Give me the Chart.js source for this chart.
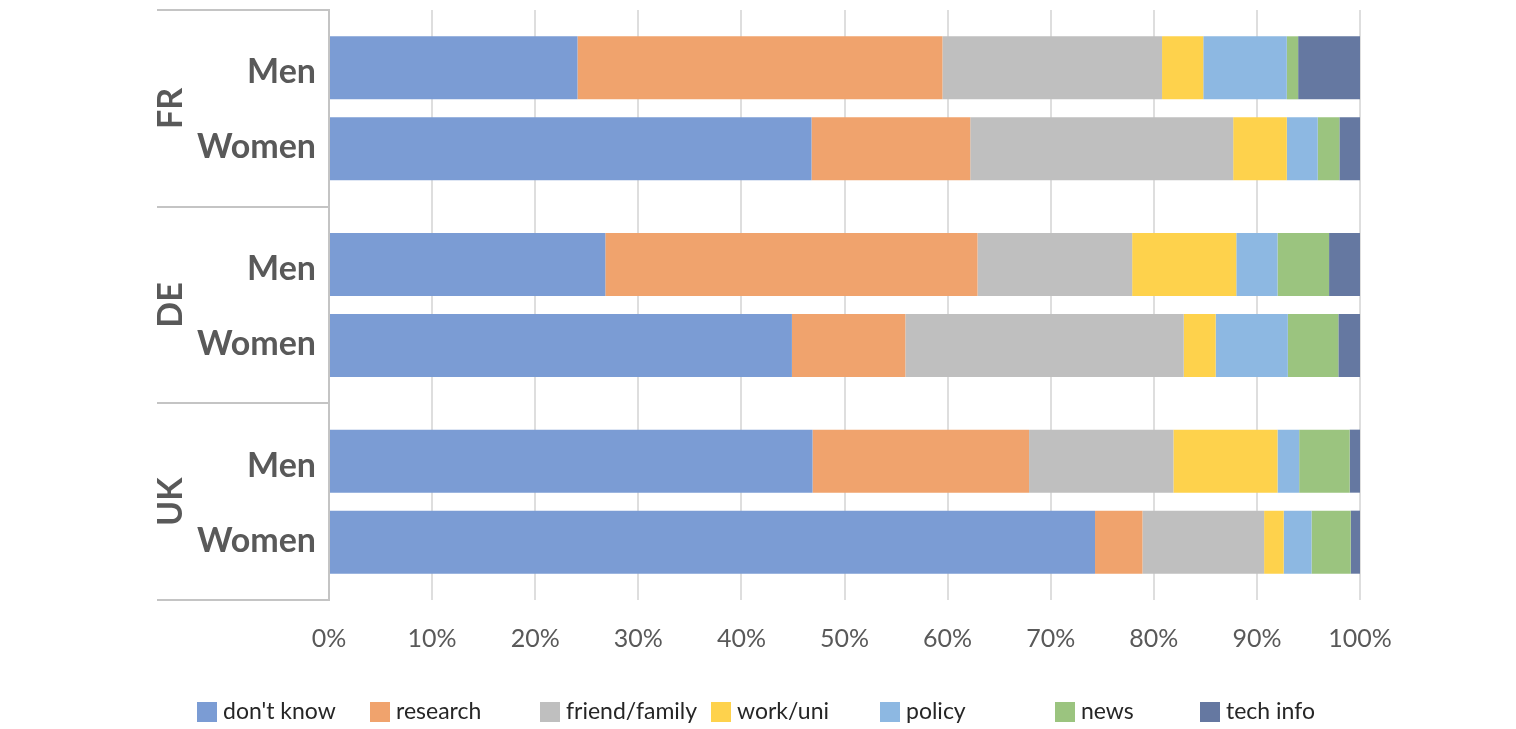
<!DOCTYPE html>
<html>
<head>
<meta charset="utf-8">
<script src="https://cdn.jsdelivr.net/npm/chart.js@4.4.1/dist/chart.umd.min.js"></script>
<style>
  html, body { margin: 0; padding: 0; background: #ffffff; }
  #wrap { width: 1516px; height: 729px; }
</style>
</head>
<body>
<div id="wrap"><canvas id="chart" width="1516" height="729"></canvas></div>
<script>
// Countries (outer axis level) and respondent groups (inner level)
const countries = ['FR', 'DE', 'UK'];
const genders = ['Men', 'Women'];

// Source categories shown in the legend
const sources = ["don't know", 'research', 'friend/family', 'work/uni', 'policy', 'news', 'tech info'];

// Share of answers (%), ordered FR Men, FR Women, DE Men, DE Women, UK Men, UK Women
const dontKnow     = [24.1, 46.8, 26.8, 44.9, 46.9, 74.3];
const research     = [35.4, 15.4, 36.1, 11.0, 21.0,  4.6];
const friendFamily = [21.3, 25.5, 15.0, 27.0, 14.0, 11.8];
const workUni      = [ 4.0,  5.2, 10.1,  3.1, 10.1,  1.9];
const policy       = [ 8.1,  3.0,  4.0,  7.0,  2.1,  2.7];
const news         = [ 1.1,  2.1,  5.0,  4.9,  4.9,  3.8];
const techInfo     = [ 6.0,  2.0,  3.0,  2.1,  1.0,  0.9];

// x-axis tick values
const xTicks = [0, 10, 20, 30, 40, 50, 60, 70, 80, 90, 100];

const seriesValues = [dontKnow, research, friendFamily, workUni, policy, news, techInfo];
const colors = ['#7b9cd4', '#f0a36d', '#bfbfbf', '#fed24c', '#8db8e2', '#9bc47f', '#6578a1'];

// One stack per gender inside each country; Men datasets come first so they sit on top.
const datasets = [];
genders.forEach((g, gi) => {
  sources.forEach((s, si) => {
    datasets.push({
      label: s,
      stack: g,
      gender: g,
      data: countries.map((c, ci) => seriesValues[si][ci * genders.length + gi]),
      backgroundColor: colors[si],
      borderWidth: 0,
      categoryPercentage: 0.824,
      barPercentage: 0.778
    });
  });
});

const FONT = 'Lato, "Open Sans", "Liberation Sans", sans-serif';

// Draws the two-level category labels on the left (Men/Women and rotated country codes)
const groupLabels = {
  id: 'groupLabels',
  afterDraw(chart) {
    const ctx = chart.ctx;
    const y = chart.scales.y;
    ctx.save();
    ctx.fillStyle = '#595959';
    ctx.font = 'bold 34px ' + FONT;
    ctx.textBaseline = 'middle';
    countries.forEach((c, i) => {
      const cy = y.getPixelForValue(i);
      ctx.textAlign = 'right';
      ctx.fillText(genders[0], 316, cy - 36);
      ctx.fillText(genders[1], 316, cy + 39);
      ctx.save();
      ctx.translate(171, cy);
      ctx.rotate(-Math.PI / 2);
      ctx.textAlign = 'center';
      ctx.fillText(c, 0, 0);
      ctx.restore();
    });
    ctx.restore();
  }
};

// Legend row under the axis, one entry per source
const sourceLegend = {
  id: 'sourceLegend',
  afterDraw(chart, args, opts) {
    const ctx = chart.ctx;
    ctx.save();
    ctx.font = opts.fontSize + 'px ' + FONT;
    ctx.textBaseline = 'middle';
    ctx.textAlign = 'left';
    chart.data.datasets.filter(d => d.gender === genders[0]).forEach((d, i) => {
      const x = opts.positions[i];
      ctx.fillStyle = d.backgroundColor;
      ctx.fillRect(x, opts.y - 10, 20, 20);
      ctx.fillStyle = '#262626';
      ctx.fillText(d.label, x + 26, opts.y);
    });
    ctx.restore();
  }
};

new Chart(document.getElementById('chart'), {
  type: 'bar',
  data: { labels: countries, datasets },
  options: {
    indexAxis: 'y',
    responsive: false,
    animation: false,
    layout: { padding: { top: 10, right: 156, bottom: 0, left: 0 } },
    plugins: {
      legend: { display: false },
      tooltip: { enabled: false },
      sourceLegend: { y: 712, fontSize: 23, positions: [197, 370, 540, 711, 880, 1055, 1200] }
    },
    scales: {
      x: {
        stacked: true,
        min: 0,
        max: 100,
        z: 1,
        afterBuildTicks(scale) { scale.ticks = xTicks.map(v => ({ value: v })); },
        afterFit(scale) { scale.height = 129; },
        ticks: {
          callback: v => v + '%',
          color: '#595959',
          font: { family: FONT, size: 25 },
          padding: 24,
          maxRotation: 0
        },
        grid: { color: 'rgba(0,0,0,0.13)', lineWidth: 2, drawTicks: false },
        border: { display: false }
      },
      y: {
        stacked: true,
        afterFit(scale) { scale.width = 329; },
        ticks: { display: false },
        grid: {
          offset: true,
          drawOnChartArea: false,
          drawTicks: true,
          tickLength: 172,
          color: '#c4c4c4',
          lineWidth: 2
        },
        border: { display: true, color: '#c4c4c4', width: 2 }
      }
    }
  },
  plugins: [groupLabels, sourceLegend]
});
</script>
</body>
</html>
